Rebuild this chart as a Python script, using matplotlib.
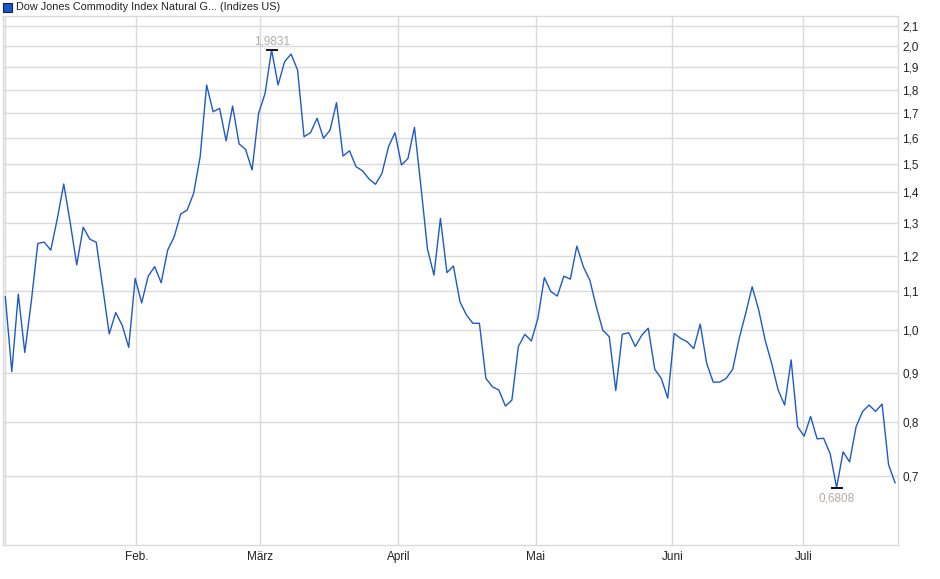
import matplotlib
matplotlib.use("Agg")
import matplotlib.pyplot as plt
from matplotlib.ticker import FixedLocator, NullLocator, FuncFormatter
from matplotlib.patches import Rectangle

plt.rcParams['font.family'] = ['Liberation Sans', 'DejaVu Sans']

title = "Dow Jones Commodity Index Natural G... (Indizes US)"

values = [
    1.085, 0.904, 1.092, 0.947, 1.072, 1.236, 1.240, 1.216, 1.312, 1.429,
    1.300, 1.173, 1.286, 1.249, 1.240, 1.110, 0.991, 1.044, 1.012, 0.959,
    1.135, 1.069, 1.141, 1.168, 1.123, 1.216, 1.256, 1.328, 1.341, 1.397,
    1.527, 1.820, 1.705, 1.719, 1.588, 1.729, 1.576, 1.555, 1.479, 1.698,
    1.783, 1.9831, 1.820, 1.926, 1.963, 1.888, 1.604, 1.620, 1.678, 1.598,
    1.630, 1.743, 1.530, 1.550, 1.491, 1.476, 1.447, 1.428, 1.467, 1.565,
    1.620, 1.497, 1.521, 1.641, 1.420, 1.220, 1.144, 1.314, 1.151, 1.170,
    1.072, 1.038, 1.017, 1.017, 0.889, 0.871, 0.864, 0.831, 0.843, 0.961,
    0.990, 0.974, 1.029, 1.137, 1.099, 1.087, 1.141, 1.133, 1.228, 1.168,
    1.130, 1.059, 1.000, 0.984, 0.863, 0.990, 0.994, 0.961, 0.988, 1.005,
    0.909, 0.889, 0.847, 0.992, 0.980, 0.972, 0.956, 1.015, 0.922, 0.881,
    0.881, 0.889, 0.909, 0.980, 1.042, 1.112, 1.051, 0.976, 0.922, 0.864,
    0.833, 0.930, 0.790, 0.772, 0.810, 0.767, 0.768, 0.740, 0.6808, 0.743,
    0.725, 0.790, 0.820, 0.833, 0.820, 0.835, 0.720, 0.689,
]

month_labels = ["Feb.", "März", "April", "Mai", "Juni", "Juli"]
month_ticks = [20.17, 39.27, 60.52, 81.67, 102.71, 122.88]
y_ticks = [0.7, 0.8, 0.9, 1.0, 1.1, 1.2, 1.3, 1.4, 1.5, 1.6, 1.7, 1.8, 1.9, 2.0, 2.1]

line_color = "#1d5ac8"
grid_color = "#dadada"
note_color = "#b3aca4"

fig = plt.figure(figsize=(9.4, 5.79), dpi=100)
W, H = 940, 579
ax = fig.add_axes([3 / W, 1 - 545.3 / H, (898.3 - 3) / W, (545.3 - 16) / H])

x = list(range(len(values)))
ax.plot(x, values, color=line_color, lw=1.0, zorder=3)

ax.set_yscale('log')
ax.set_ylim(0.5914, 2.154)
ax.set_xlim(-0.354, 137.5)

ax.yaxis.set_major_locator(FixedLocator(y_ticks))
ax.yaxis.set_minor_locator(NullLocator())
ax.yaxis.set_major_formatter(FuncFormatter(lambda v, p: f"{v:.1f}".replace(".", ",")))
ax.yaxis.tick_right()
ax.tick_params(axis='y', length=0, pad=3, labelsize=8.5, labelcolor="#222222")

ax.xaxis.set_major_locator(FixedLocator(month_ticks))
ax.xaxis.set_minor_locator(NullLocator())
ax.set_xticklabels(month_labels)
ax.tick_params(axis='x', length=0, pad=4, labelsize=8.5, labelcolor="#222222")

ax.grid(True, color=grid_color, lw=1.0, zorder=0)
ax.axvline(0, color=grid_color, lw=1.0, zorder=0)
for sp in ax.spines.values():
    sp.set_color(grid_color)
    sp.set_linewidth(1.0)

# Hoch und Tief markieren
i_max = values.index(max(values))
i_min = values.index(min(values))
ax.plot([i_max], [values[i_max]], marker='_', ms=8, mew=1.3, color='black', zorder=4)
ax.plot([i_min], [values[i_min]], marker='_', ms=8, mew=1.3, color='black', zorder=4)
ax.annotate(f"{values[i_max]:.4f}".replace(".", ","), (i_max, values[i_max]),
            xytext=(0, 6), textcoords='offset points', ha='center', va='center',
            fontsize=8.5, color=note_color)
ax.annotate(f"{values[i_min]:.4f}".replace(".", ","), (i_min, values[i_min]),
            xytext=(0, -7.5), textcoords='offset points', ha='center', va='center',
            fontsize=8.5, color=note_color)

# Legende oben links
fig.patches.append(Rectangle((3 / W, 1 - 11.5 / H), 9 / W, 9 / H, transform=fig.transFigure,
                             facecolor="#1f55c0", edgecolor="#0c2461", lw=0.8))
fig.text(16 / W, 1 - 6.5 / H, title, fontsize=7.8, va='center', ha='left', color="#222222")

fig.savefig("out.png", dpi=100)
